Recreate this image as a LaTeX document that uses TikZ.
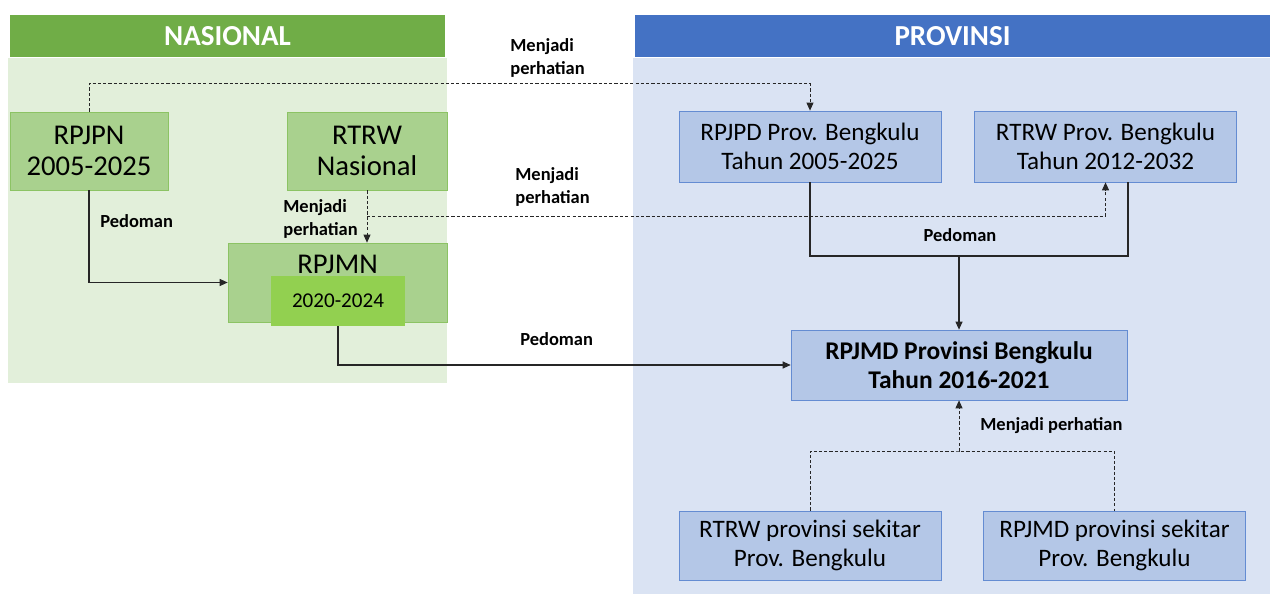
\documentclass[tikz,border=0pt]{standalone}
\usepackage{fontspec}
\setmainfont{Carlito}
\usetikzlibrary{arrows.meta}

\definecolor{NasHeadColor}{RGB}{112,173,71}
\definecolor{NasBackColor}{RGB}{226,239,218}
\definecolor{NasBoxColor}{RGB}{169,209,142}
\definecolor{NasLineColor}{RGB}{140,195,100}
\definecolor{YearColor}{RGB}{146,208,80}
\definecolor{ProvHeadColor}{RGB}{68,114,196}
\definecolor{ProvBackColor}{RGB}{218,227,243}
\definecolor{ProvBoxColor}{RGB}{180,199,231}
\definecolor{ProvLineColor}{RGB}{100,140,210}

\tikzset{
	header/.style={text=white, inner sep=0pt, minimum height=0.84cm, font=\fontsize{16.5}{18}\selectfont\bfseries},
	nastext/.style={font=\fontsize{16.3}{18}\selectfont},
	nasbox/.style={nastext, draw=NasLineColor, fill=NasBoxColor, inner sep=0pt, align=center},
	yearbox/.style={fill=YearColor, inner sep=0pt, minimum width=2.68cm, minimum height=1cm, font=\fontsize{12}{14}\selectfont},
	provbox/.style={draw=ProvLineColor, fill=ProvBoxColor, inner sep=0pt, align=center, minimum width=5.24cm, minimum height=1.42cm, font=\fontsize{14.3}{16.5}\selectfont},
	remark/.style={inner sep=0pt, align=left, font=\fontsize{10.5}{13}\selectfont\bfseries},
	guide/.style={draw=black!85, line width=0.6pt, -{Triangle[length=1.6mm,width=1.4mm]}},
	notice/.style={guide, line width=0.5pt, dash pattern=on 1.8pt off 1.2pt}
}

\begin{document}
\begin{tikzpicture}[x=0.02cm,y=-0.02cm]

	\useasboundingbox (0,0) rectangle (1270,594);

	% Panels

	\fill [NasBackColor] (8,58) rectangle (447,383);
	\fill [ProvBackColor] (633,58) rectangle (1270,594);

	\node [header, fill=NasHeadColor, minimum width=8.7cm] (nashead) at (227.5,36) {NASIONAL};
	\node [header, fill=ProvHeadColor, minimum width=12.7cm] (provhead) at (952.5,36) {PROVINSI};

	% Nasional boxes

	\node [nasbox, minimum width=3.16cm, minimum height=1.56cm] (rpjpn) at (89,151) {RPJPN\\2005-2025};
	\node [nasbox, minimum width=3.2cm, minimum height=1.56cm] (rtrwn) at (367,151) {RTRW\\Nasional};
	\node [nasbox, minimum width=4.38cm, minimum height=1.58cm,
		label={[nastext, anchor=north, inner sep=0pt, yshift=-0.24cm]north:RPJMN}] (rpjmn) at (337.5,282.5) {};
	\node [yearbox] (year) at (338,301) {2020-2024};

	% Provinsi boxes

	\node [provbox] (rpjpd) at (810,146.5) {RPJPD Prov. Bengkulu\\Tahun 2005-2025};
	\node [provbox] (rtrwp) at (1105.5,146.5) {RTRW Prov. Bengkulu\\Tahun 2012-2032};
	\node [provbox, minimum width=6.72cm, minimum height=1.4cm, font=\fontsize{14.5}{16.5}\selectfont\bfseries] (rpjmd) at (959,365) {RPJMD Provinsi Bengkulu\\Tahun 2016-2021};
	\node [provbox, minimum height=1.38cm] (rtrws) at (810,545.5) {RTRW provinsi sekitar\\Prov. Bengkulu};
	\node [provbox, minimum height=1.38cm] (rpjmds) at (1114.5,545.5) {RPJMD provinsi sekitar\\Prov. Bengkulu};

	% Labels

	\node [remark, anchor=north west] (attn1) at (510,38) {Menjadi\\perhatian};
	\node [remark, anchor=north west] (attn2) at (283,199) {Menjadi\\perhatian};
	\node [remark, anchor=north west] (attn3) at (515,167) {Menjadi\\perhatian};
	\node [remark, anchor=north west] (attn4) at (980,417) {Menjadi perhatian};
	\node [remark, anchor=west] (ped1) at (100,221) {Pedoman};
	\node [remark, anchor=west] (ped2) at (520,339) {Pedoman};
	\node [remark] (ped3) at (960,235) {Pedoman};

	% Dashed connectors

	\draw [notice] (rpjpn.north) -- ++(0,-28) -| (rpjpd.north);
	\draw [notice] (rtrwn.south) -- (rtrwn.south |- rpjmn.north);
	\coordinate (fork) at (rtrwn.south |- 0,216);
	\draw [notice] (fork) -| (rtrwp.south);
	\coordinate (meet) at (rpjmd.south |- 0,451);
	\draw [notice, -] (rtrws.north) |- (meet) -| (rpjmds.north);
	\draw [notice] (meet) -- (rpjmd.south);

	% Solid connectors

	\draw [guide] (rpjpn.south) |- (rpjmn.west);
	\draw [guide] (year.south) |- (rpjmd.west);
	\coordinate (join) at (rpjmd.north |- 0,256);
	\draw [guide, -] (rpjpd.south) |- (join) -| ([xshift=0.45cm]rtrwp.south);
	\draw [guide] (join) -- (rpjmd.north);

\end{tikzpicture}
\end{document}
